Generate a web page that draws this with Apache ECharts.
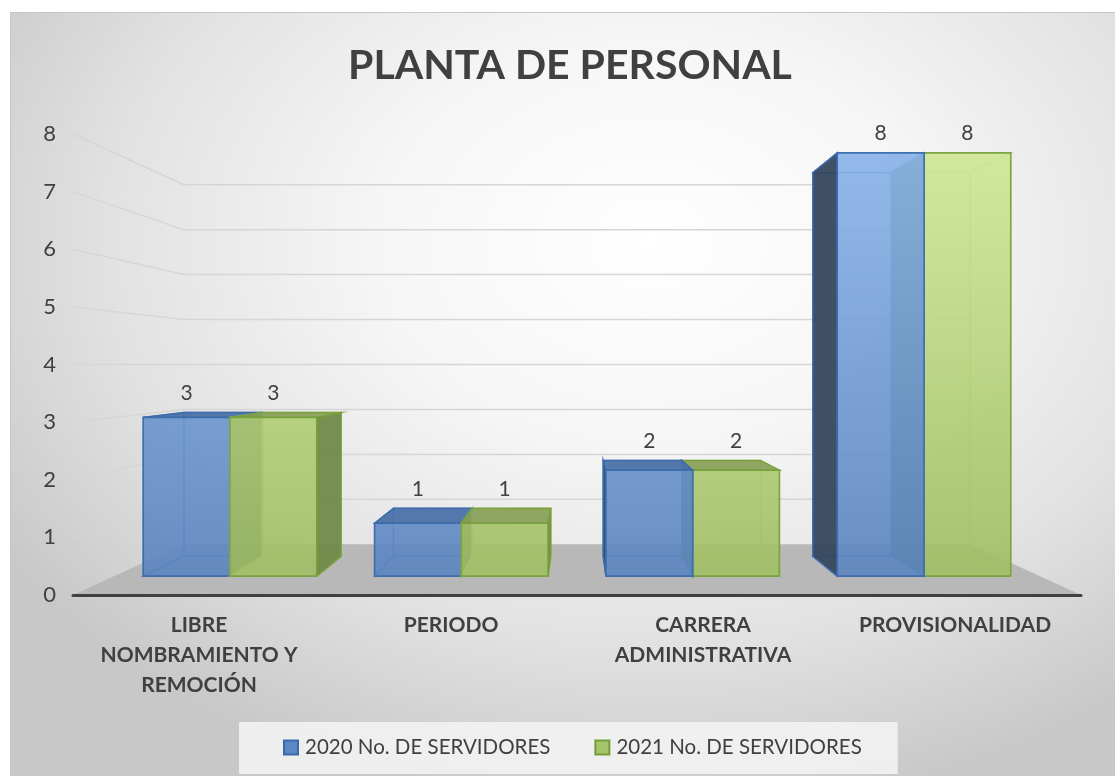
<!DOCTYPE html>
<html>
<head>
<meta charset="utf-8">
<title>Planta de personal</title>
<script src="https://cdn.jsdelivr.net/npm/echarts@6/dist/echarts.min.js"></script>
<style>
  html, body { margin: 0; padding: 0; background: #fff; }
  #frame {
    position: absolute; left: 10px; top: 12px; width: 1104px; height: 763px;
    border: 1px solid #c6c6c6;
    background: radial-gradient(ellipse 70% 75% at 58% 30%, #ffffff 0%, #f6f6f6 35%, #e2e2e2 70%, #c8c8c8 100%);
  }
  #main { position: absolute; left: 0; top: 0; width: 1115px; height: 776px; }
</style>
</head>
<body>
<div id="frame"></div>
<div id="main"></div>
<script>
// datos
const categories = ['LIBRE NOMBRAMIENTO Y REMOCIÓN', 'PERIODO', 'CARRERA ADMINISTRATIVA', 'PROVISIONALIDAD'];
const servidores2020 = [3, 1, 2, 8];
const servidores2021 = [3, 1, 2, 8];
const yTicks = [0, 1, 2, 3, 4, 5, 6, 7, 8];

// profundidad de la perspectiva (plano del eje = 1)
const S_FRONT = 0.918;
const S_BACK = 0.832;
const S_WALL = 0.78;
const FONT = "Lato, 'Open Sans', sans-serif";

const blue = {
  edge: '#3b6aab', inner: '#5685c2', side: '#33455e', top: '#4a71a8',
  frontTop: '#89b4ea', frontBottom: '#5882bd'
};
const green = {
  edge: '#769e38', inner: '#b7d27b', side: '#718948', top: '#89a15a',
  frontTop: '#d0e897', frontBottom: '#9dbd62'
};

function proj(vx, vy, x, y, s) {
  return [vx + (x - vx) * s, vy + (y - vy) * s];
}

// etiquetas en varias lineas como en el original
function wrapLabel(name) {
  return name.replace('LIBRE ', 'LIBRE\n').replace('Y REMOCIÓN', 'Y\nREMOCIÓN').replace('CARRERA ', 'CARRERA\n');
}

function boxRenderer(slot, pal) {
  return function (params, api) {
    var cs = params.coordSys;
    var vx = cs.x + cs.width / 2, vy = cs.y + cs.height / 2;
    var cat = api.value(0), val = api.value(1);
    var base = api.coord([cat, 0]);
    var top = api.coord([cat, val]);
    var w = api.size([1, 0])[0] * 0.375;
    var x1 = base[0] + (slot - 1) * w, x2 = x1 + w;
    var F = [proj(vx, vy, x1, top[1], S_FRONT), proj(vx, vy, x2, top[1], S_FRONT),
             proj(vx, vy, x2, base[1], S_FRONT), proj(vx, vy, x1, base[1], S_FRONT)];
    var K = [proj(vx, vy, x1, top[1], S_BACK), proj(vx, vy, x2, top[1], S_BACK),
             proj(vx, vy, x2, base[1], S_BACK), proj(vx, vy, x1, base[1], S_BACK)];
    var dist = Math.abs((F[0][0] + F[1][0]) / 2 - vx);
    var zb = (2000 - Math.round(dist)) * 10;

    var rightVis = K[1][0] > F[1][0];
    var leftVis = K[0][0] < F[0][0];
    var topVis = K[0][1] < F[0][1];

    var faces = {
      back: K,
      bottom: [F[3], F[2], K[2], K[3]],
      left: [F[0], F[3], K[3], K[0]],
      right: [F[1], F[2], K[2], K[1]],
      top: [F[0], F[1], K[1], K[0]]
    };
    var children = [];
    function poly(pts, style, z2) {
      children.push({ type: 'polygon', shape: { points: pts }, style: style, z2: z2, silent: true });
    }
    var innerStyle = { fill: 'none', stroke: pal.inner, lineWidth: 1.3 };
    poly(faces.back, innerStyle, zb);
    poly(faces.bottom, innerStyle, zb + 1);
    if (!leftVis) poly(faces.left, innerStyle, zb + 1);
    if (!rightVis) poly(faces.right, innerStyle, zb + 1);
    if (!topVis) poly(faces.top, innerStyle, zb + 1);

    var solid = function (c) { return { fill: c, stroke: pal.edge, lineWidth: 1.5, opacity: 0.94 }; };
    if (leftVis) poly(faces.left, solid(pal.side), zb + 2);
    if (rightVis) poly(faces.right, solid(pal.side), zb + 2);
    if (topVis) poly(faces.top, solid(pal.top), zb + 3);

    poly(F, {
      fill: new echarts.graphic.LinearGradient(0, cs.y, 0, cs.y + cs.height, [
        { offset: 0, color: pal.frontTop }, { offset: 1, color: pal.frontBottom }
      ], true),
      stroke: pal.edge, lineWidth: 1.6, opacity: 0.9
    }, zb + 4);

    children.push({
      type: 'text', silent: true, z2: 90000,
      style: {
        x: (F[0][0] + F[1][0]) / 2, y: Math.min(F[0][1], K[0][1]) - 9,
        text: String(val), align: 'center', verticalAlign: 'bottom',
        fill: '#404040', fontSize: 21, fontFamily: FONT
      }
    });
    return { type: 'group', children: children };
  };
}

function wallRenderer(params, api) {
  var cs = params.coordSys;
  var vx = cs.x + cs.width / 2, vy = cs.y + cs.height / 2;
  var v = api.value(1);
  var y = api.coord([0, v])[1];
  var L = cs.x, R = cs.x + cs.width;
  if (v === 0) {
    return {
      type: 'polygon', silent: true,
      shape: { points: [[L, y], [R, y], proj(vx, vy, R, y, S_WALL), proj(vx, vy, L, y, S_WALL)] },
      style: { fill: '#b8b8b8' }
    };
  }
  return {
    type: 'polyline', silent: true,
    shape: { points: [[L, y], proj(vx, vy, L, y, S_WALL), proj(vx, vy, R, y, S_WALL)] },
    style: { fill: 'none', stroke: '#d6d6d6', lineWidth: 1.5 }
  };
}

var chart = echarts.init(document.getElementById('main'));
chart.setOption({
  backgroundColor: 'transparent',
  animation: false,
  textStyle: { fontFamily: FONT },
  title: {
    text: 'PLANTA DE PERSONAL',
    left: 343, top: 40,
    textStyle: { fontSize: 41, fontWeight: 'bold', color: '#404040', fontFamily: FONT }
  },
  legend: {
    data: ['2020 No. DE SERVIDORES', '2021 No. DE SERVIDORES'],
    left: 239, top: 722,
    padding: [15, 36, 16, 44],
    backgroundColor: 'rgba(244,244,244,0.85)',
    icon: 'rect', itemWidth: 14, itemHeight: 14, itemGap: 44,
    textStyle: { fontSize: 20.5, color: '#404040', padding: [0, 0, 0, 2], fontFamily: FONT }
  },
  grid: { left: 73, right: 34, top: 134, bottom: 181, containLabel: false, outerBoundsMode: 'none' },
  xAxis: {
    type: 'category',
    data: categories,
    z: 5,
    axisLine: { lineStyle: { color: '#404040', width: 3 } },
    axisTick: { show: false },
    axisLabel: {
      interval: 0, margin: 15, fontSize: 21, fontWeight: 'bold', color: '#404040',
      lineHeight: 30, fontFamily: FONT, formatter: wrapLabel
    }
  },
  yAxis: {
    type: 'value', min: 0, max: 8, interval: 1,
    axisLine: { show: false }, axisTick: { show: false }, splitLine: { show: false },
    axisLabel: { fontSize: 22, color: '#404040', margin: 17, fontFamily: FONT }
  },
  series: [
    {
      type: 'custom', name: 'walls', z: 1,
      data: yTicks.map(function (v) { return [0, v]; }),
      renderItem: wallRenderer
    },
    {
      type: 'custom', name: '2020 No. DE SERVIDORES',
      itemStyle: { color: '#5b87c2', borderColor: '#3b6aab', borderWidth: 1.5 },
      data: servidores2020.map(function (v, i) { return [i, v]; }),
      renderItem: boxRenderer(0, blue)
    },
    {
      type: 'custom', name: '2021 No. DE SERVIDORES',
      itemStyle: { color: '#a5c46c', borderColor: '#769e38', borderWidth: 1.5 },
      data: servidores2021.map(function (v, i) { return [i, v]; }),
      renderItem: boxRenderer(1, green)
    }
  ]
});
</script>
</body>
</html>
